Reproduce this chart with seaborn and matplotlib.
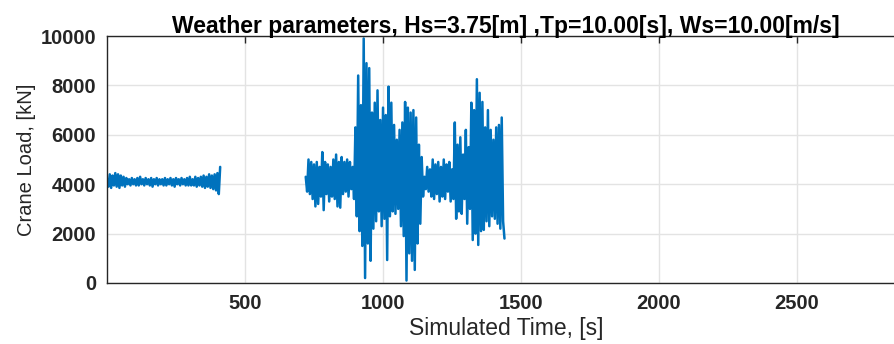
import numpy as np
import pandas as pd
import matplotlib
matplotlib.use("Agg")
import matplotlib.pyplot as plt
import seaborn as sns

# ---- data (alternating local peaks / troughs, kN) ----
seg1_start, seg1_step = 0, 5
seg1_load = [4200, 3900, 4400, 3850, 4350, 3950, 4450, 3900, 4400, 3850,
             4350, 3950, 4300, 3900, 4250, 4000, 4200, 3950, 4250, 4000,
             4200, 3950, 4250, 3950, 4300, 4000, 4200, 3950, 4250, 4000,
             4200, 3950, 4250, 3900, 4200, 4000, 4250, 3950, 4200, 4000,
             4200, 3950, 4250, 3950, 4200, 4000, 4250, 3950, 4200, 3900,
             4250, 4000, 4200, 3950, 4250, 4000, 4200, 3950, 4250, 3950,
             4300, 3950, 4200, 3950, 4300, 3900, 4250, 3950, 4300, 3900,
             4350, 3850, 4300, 3900, 4400, 3850, 4350, 3800, 4400, 3750,
             4450, 3600, 4700]

seg2_start, seg2_step = 720, 5
seg2_load = [4300, 3700, 5000, 3600, 4900, 3400, 4800, 3100, 4900, 3200,
             4700, 3500, 5300, 2950, 4900, 3600, 4800, 3300, 4700, 3500,
             5000, 3400, 5200, 3100, 4900, 3050, 5100, 3600, 4900, 3700,
             5000, 3500, 4900, 3800, 4700, 3400, 6300, 2700, 8400, 2100,
             7200, 1500, 9900, 200, 8900, 1600, 8700, 900, 6900, 2200,
             7300, 2500, 7800, 2900, 6600, 2300, 7100, 2600, 6800, 930,
             7950, 2700, 7300, 2900, 6400, 2800, 5800, 3000, 6200, 2300,
             6500, 1900, 7330, 100, 7100, 1200, 6900, 900, 7000, 530,
             6700, 1600, 5600, 2400, 5100, 3500, 4300, 3800, 4700, 3700,
             4600, 3500, 5000, 3400, 4800, 3600, 4900, 3300, 4700, 3500,
             5000, 3400, 4800, 3700, 4900, 3300, 4600, 3400, 6500, 2600,
             5600, 2900, 5900, 2800, 5200, 3400, 6200, 2400, 5500, 3000,
             7300, 1740, 7000, 2000, 8250, 1540, 7700, 2100, 7330, 2150,
             6300, 2500, 7000, 2300, 6200, 2700, 5800, 2600, 6300, 2400,
             6400, 2200, 6700, 2500, 1800]

x_ticks = [500, 1000, 1500, 2000, 2500]
y_ticks = [0, 2000, 4000, 6000, 8000, 10000]
title = "Weather parameters, Hs=3.75[m] ,Tp=10.00[s], Ws=10.00[m/s]"
xlabel = "Simulated Time, [s]"
ylabel = "Crane Load, [kN]"

# ---- build table ----
t1 = seg1_start + seg1_step * np.arange(len(seg1_load))
t2 = seg2_start + seg2_step * np.arange(len(seg2_load))
df = pd.DataFrame({
    "t": np.concatenate([t1, t2]),
    "load": np.concatenate([seg1_load, seg2_load]),
    "seg": [1] * len(t1) + [2] * len(t2),
})

sns.set_theme(style="white")
plt.rcParams["font.family"] = ["Liberation Sans", "DejaVu Sans"]

fig = plt.figure(figsize=(8.94, 3.44), dpi=100)
ax = fig.add_axes([107 / 894, (344 - 283) / 344, (905 - 107) / 894, (283 - 36) / 344])

sns.lineplot(data=df, x="t", y="load", units="seg", estimator=None,
             color="#0072BD", linewidth=1.8, ax=ax, sort=False)

ax.set_xlim(0, 2891)
ax.set_ylim(0, 10000)
ax.set_xticks(x_ticks)
ax.set_yticks(y_ticks)
ax.grid(True, color="#e3e3e3", linewidth=1.0)
ax.set_axisbelow(True)
for s in ax.spines.values():
    s.set_color("#262626")
    s.set_linewidth(1.0)
ax.tick_params(direction="in", length=5, width=1, color="#262626",
               top=True, right=True, labelsize=14.5, labelcolor="#262626", pad=8)
for lab in ax.get_xticklabels() + ax.get_yticklabels():
    lab.set_fontweight("bold")
ax.set_xlabel(xlabel, fontsize=16.5, color="#262626", labelpad=3)
ax.set_ylabel(ylabel, fontsize=14.5, color="#262626", labelpad=3)
ax.set_title(title, fontsize=16.5, fontweight="bold", color="black", pad=2)

fig.savefig("out.png", dpi=100)
